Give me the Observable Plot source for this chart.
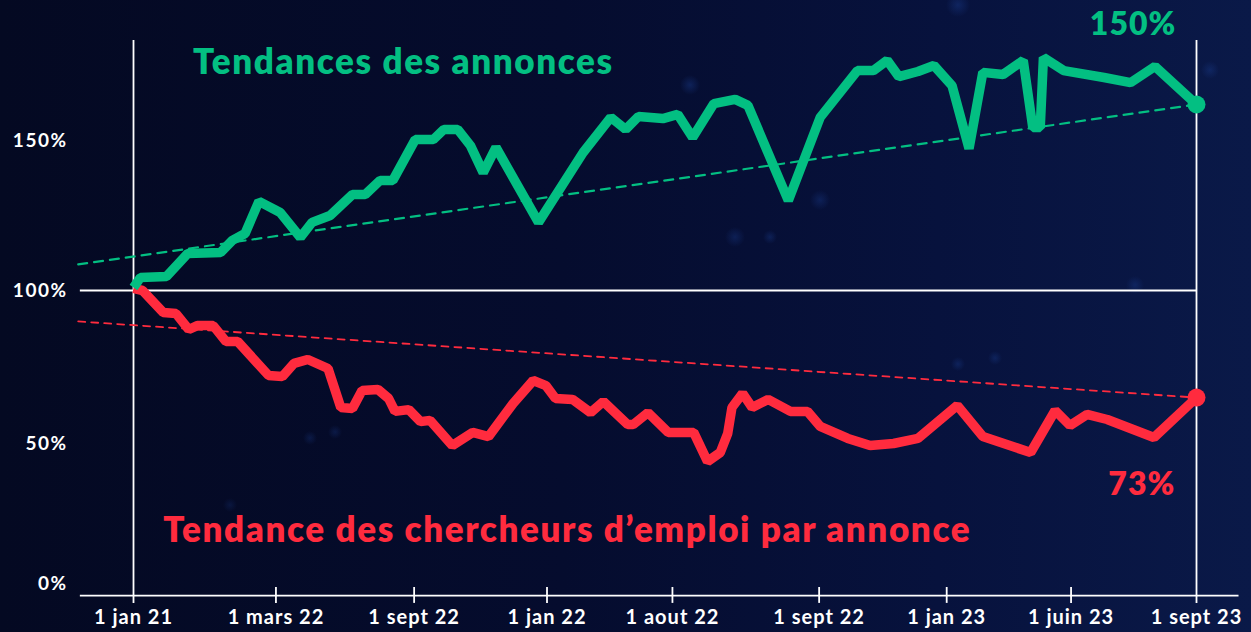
<!DOCTYPE html>
<html><head><meta charset="utf-8">
<script src="https://cdn.jsdelivr.net/npm/d3@7"></script>
<script src="https://cdn.jsdelivr.net/npm/@observablehq/plot@0.6"></script>
<style>
html,body{margin:0;padding:0;width:1251px;height:632px;overflow:hidden;}
body{
  background:
    radial-gradient(circle at 690px 85px, rgba(30,70,160,0.35) 0, rgba(30,70,160,0) 10px),
    radial-gradient(circle at 735px 237px, rgba(30,70,160,0.3) 0, rgba(30,70,160,0) 10px),
    radial-gradient(circle at 770px 237px, rgba(30,70,160,0.3) 0, rgba(30,70,160,0) 7px),
    radial-gradient(circle at 820px 200px, rgba(30,70,160,0.3) 0, rgba(30,70,160,0) 10px),
    radial-gradient(circle at 1135px 285px, rgba(30,70,160,0.3) 0, rgba(30,70,160,0) 9px),
    radial-gradient(circle at 958px 364px, rgba(30,70,160,0.3) 0, rgba(30,70,160,0) 7px),
    radial-gradient(circle at 995px 358px, rgba(30,70,160,0.3) 0, rgba(30,70,160,0) 7px),
    radial-gradient(circle at 310px 438px, rgba(30,70,160,0.25) 0, rgba(30,70,160,0) 7px),
    radial-gradient(circle at 335px 432px, rgba(30,70,160,0.25) 0, rgba(30,70,160,0) 7px),
    radial-gradient(circle at 230px 505px, rgba(30,70,160,0.2) 0, rgba(30,70,160,0) 7px),
    radial-gradient(circle at 1210px 70px, rgba(30,70,160,0.3) 0, rgba(30,70,160,0) 9px),
    radial-gradient(circle at 958px 5px, rgba(30,70,160,0.35) 0, rgba(30,70,160,0) 12px),
    linear-gradient(90deg, #040922 0%, #050c2e 45%, #07123d 75%, #0a1948 100%);
}
#chart svg{display:block;}
</style></head><body><div id="chart"></div>
<script>
// Series: "Tendances des annonces" (x = position along period, 0..100; y = % index)
const annoncesX = [0,0.66,3.1,5.1,8.2,9.3,10.5,11.8,13.8,15.7,16.8,18.5,20.6,21.8,23.2,24.4,26.5,28.2,29.2,30.5,31.7,32.9,34.1,38.1,42.3,44.9,46.3,47.5,49.8,51.2,52.6,54.6,56.6,57.8,61.6,64.6,68.1,69.6,70.9,72.0,73.8,75.3,77.0,78.6,79.9,81.8,83.7,84.6,85.3,85.6,87.5,91.3,93.8,96.1,100];
const annoncesY = [101,104.3,104.7,112.3,112.7,116.7,119,129.7,126,117.7,122.7,125,132,132,136.7,136.7,150.3,150.3,153.7,153.7,148.3,139.3,147.7,122.7,146,157.7,153.7,158,157.3,158.7,151,162.3,163.7,161.7,130,157.7,173.3,173.3,176.7,171.3,173,175,168.3,147.3,172.7,172,176.7,154.3,154.3,177.7,173.3,171,169.3,174.7,162];
// Series: "Tendance des chercheurs d'emploi par annonce"
const chercheursX = [0,0.85,2.8,4.0,5.2,6.0,7.5,8.7,9.8,12.7,14.0,15.1,16.4,18.3,19.5,20.6,21.5,23.0,24.0,24.6,25.9,27.0,27.9,30.0,31.9,33.4,35.7,37.6,38.8,39.7,41.3,43.0,44.2,46.5,47.0,48.4,50.3,52.7,54.0,55.2,55.9,56.3,57.3,58.2,59.7,61.8,63.4,64.6,67.2,69.3,71.5,73.8,77.5,79.9,84.4,86.7,88.1,89.7,91.6,96.0,100];
const chercheursY = [100.7,100,92.7,92.3,87,88.3,88.3,83,83,71.7,71.3,75.7,77,74,61,60.7,66.7,67,64,59.7,60.3,56.3,56.7,48.3,52.7,51.3,62.3,70,68.3,64,63.7,59.3,63,55.3,55.3,59.3,52.7,52.7,43,46,52.3,61,65.7,61,63.7,59.7,59.7,54.7,50.7,48.3,49,50.7,61.7,51.3,46,60,55,58.7,57,51,64.3];
// Trend lines (start, end)
const trendAnnoncesX = [-5.2, 100];
const trendAnnoncesY = [108.7, 162];
const trendChercheursX = [-5.2, 100];
const trendChercheursY = [89.7, 64.3];
// Axes
const xTickPos = [0, 13.4, 26.4, 38.9, 50.7, 64.5, 76.5, 88.2, 100];
const xTickLabels = ["1 jan 21","1 mars 22","1 sept 22","1 jan 22","1 aout 22","1 sept 22","1 jan 23","1 juin 23","1 sept 23"];
const yTicks = [0, 50, 100, 150];
// End labels
const endLabelAnnonces = "150%";
const endLabelChercheurs = "73%";

const green = "#03bf82", red = "#ff2b3e", white = "#ffffff";
const annonces = annoncesX.map((x, i) => ({x, y: annoncesY[i]}));
const chercheurs = chercheursX.map((x, i) => ({x, y: chercheursY[i]}));
const tA = trendAnnoncesX.map((x, i) => ({x, y: trendAnnoncesY[i]}));
const tC = trendChercheursX.map((x, i) => ({x, y: trendChercheursY[i]}));
const yAxisOpts = {tickFormat: d => d + "%", tickSize: 0, tickPadding: 66, fontSize: 19, fontWeight: 700, fill: white, label: null};

const chart = Plot.plot({
  width: 1251, height: 632,
  marginLeft: 133, marginRight: 55, marginTop: 50, marginBottom: 36,
  x: {domain: [0, 100]},
  y: {domain: [-2, 180]},
  style: {background: "transparent", fontFamily: "Lato, 'Open Sans', sans-serif", color: white, overflow: "visible"},
  marks: [
    Plot.ruleY([-1.7], {x1: -5, x2: 104, stroke: white, strokeWidth: 1.8}),
    Plot.ruleY([100], {x1: -5, x2: 100, stroke: white, strokeWidth: 1.8}),
    Plot.ruleX([xTickPos[0], xTickPos[xTickPos.length - 1]], {y1: -4.3, y2: 183.3, stroke: white, strokeWidth: 1.8}),
    Plot.ruleX(xTickPos.slice(1, -1), {y1: -4.3, y2: 1.0, stroke: white, strokeWidth: 1.8}),
    Plot.axisX({ticks: xTickPos, tickFormat: d => xTickLabels[xTickPos.indexOf(d)], tickSize: 0, tickPadding: 13, fontSize: 20, fontWeight: 700, fill: white, label: null}),
    Plot.axisY({...yAxisOpts, ticks: yTicks.filter(d => d >= 100)}),
    Plot.axisY({...yAxisOpts, ticks: yTicks.filter(d => d === 50), dy: 3}),
    Plot.axisY({...yAxisOpts, ticks: yTicks.filter(d => d === 0), dy: -7}),
    Plot.line(tA, {x: "x", y: "y", stroke: green, strokeWidth: 2.2, strokeDasharray: "9,7"}),
    Plot.line(tC, {x: "x", y: "y", stroke: red, strokeWidth: 1.8, strokeDasharray: "7,6"}),
    Plot.line(chercheurs, {x: "x", y: "y", stroke: red, strokeWidth: 9.5, strokeLinejoin: "miter", strokeLinecap: "butt"}),
    Plot.line(annonces, {x: "x", y: "y", stroke: green, strokeWidth: 9.5, strokeLinejoin: "miter", strokeLinecap: "butt"}),
    Plot.dot([annonces[annonces.length - 1]], {x: "x", y: "y", r: 9, fill: green}),
    Plot.dot([chercheurs[chercheurs.length - 1]], {x: "x", y: "y", r: 9, fill: red}),
    Plot.text(["Tendances des annonces"], {x: 5.6, y: 176, text: d => d, textAnchor: "start", fill: green, fontSize: 35, fontWeight: 800}),
    Plot.text(["Tendance des chercheurs d’emploi par annonce"], {x: 2.8, y: 20, text: d => d, textAnchor: "start", fill: red, fontSize: 35, fontWeight: 800}),
    Plot.text([endLabelAnnonces], {x: 98.1, y: 188.7, text: d => d, textAnchor: "end", fill: green, fontSize: 32, fontWeight: 800}),
    Plot.text([endLabelChercheurs], {x: 98.0, y: 35.3, text: d => d, textAnchor: "end", fill: red, fontSize: 32, fontWeight: 800})
  ]
});
const svg = d3.select(chart);
svg.selectAll("g[font-size='35']").style("letter-spacing", "1.6px");
svg.selectAll("g[font-size='32']").style("letter-spacing", "1px");
svg.selectAll("g[font-size='20']").style("letter-spacing", "1px");
svg.selectAll("g[font-size='19']").style("letter-spacing", "1.5px");
document.getElementById("chart").appendChild(chart);
</script>
</body></html>
